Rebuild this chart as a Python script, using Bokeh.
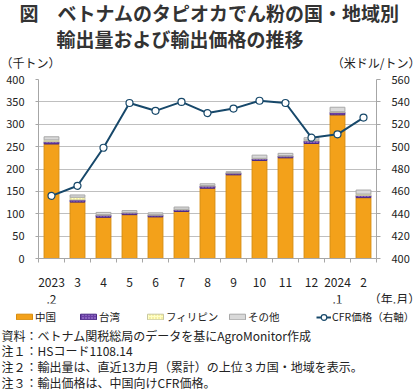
from bokeh.plotting import figure
from bokeh.layouts import column
from bokeh.models import (Range1d, LinearAxis, FixedTicker, SingleIntervalTicker,
                          Label, Legend, LegendItem, ColumnDataSource)
from bokeh.embed import file_html
from bokeh.resources import INLINE
import numpy as np

# ---- data ----
months = ["2023\n.2", "3", "4", "5", "6", "7", "8", "9", "10", "11", "12", "2024\n.1", "2"]
china = [256, 126, 92, 98, 93, 105, 157, 187, 219, 225, 257, 321, 136]
taiwan = [5, 5, 5, 4, 4, 4, 5, 4, 4, 4, 6, 6, 5]
philippines = [4, 6, 1, 1, 1, 1, 1, 1, 1, 1, 2, 1, 3]
others = [7, 5, 5, 4, 4, 5, 4, 2, 7, 5, 5, 10, 9]
cfr_price = [456, 465, 499, 539, 532, 540, 530, 534, 541, 539, 508, 511, 526]
series_names = ["中国", "台湾", "フィリピン", "その他"]
line_name = "CFR価格（右軸）"
x_unit = "（年.月）"

FONT = "Noto Sans CJK JP"
TXT = "#222222"
GRID = "#BFBFBF"
AX = "#A6A6A6"
FILLS = ["#F3A11A", "#6B3FA6", "#FFFFC8", "#D9D9D9"]
EDGES = ["#D88C0C", "#4A2A86", "#C8C8A0", "#A8A8A8"]
HATCH = [" ", "dot", "dot", " "]
HATCH_C = ["#F3A11A", "#B59BE0", "#E8D86A", "#D9D9D9"]
LINE = "#17486A"
STACK = ["china", "taiwan", "philippines", "others"]

n = len(months)
xc = np.arange(n) + 0.5
src = ColumnDataSource(dict(x=xc, china=china, taiwan=taiwan,
                            philippines=philippines, others=others, price=cfr_price))

W = 420
FRAME_L, FRAME_W = 38, 338
ppu = FRAME_W / n


def blank(width, height):
    f = figure(width=width, height=height, output_backend="svg", toolbar_location=None,
               x_range=Range1d(0, 1), y_range=Range1d(0, 1), x_axis_type=None, y_axis_type=None,
               min_border=0, frame_align=False)
    f.outline_line_color = None
    f.grid.visible = False
    return f


def lab(f, text, x, y, size="12px", align="left", style="normal", color=TXT):
    f.add_layout(Label(x=x, y=y, x_units="screen", y_units="screen", text=text,
                       text_font=FONT, text_font_size=size, text_color=color,
                       text_align=align, text_baseline="middle", text_font_style=style))


# ---- top: titles and unit labels (page y 0-71) ----
top = blank(W, 71)
lab(top, "図\u3000ベトナムのタピオカでん粉の国・地域別", 19, 59, "19px", style="bold", color="#333333")
lab(top, "輸出量および輸出価格の推移", 56, 33, "19px", style="bold", color="#333333")
lab(top, "（千トン）", 0, 9)
lab(top, "（米ドル/トン）", W, 9, align="right")

# ---- main chart (page y 71-266, frame 79-258) ----
p = figure(width=W, height=195, output_backend="svg", toolbar_location=None,
           x_range=Range1d(0, n), y_range=Range1d(0, 400), frame_align=False,
           min_border_left=FRAME_L, min_border_right=W - FRAME_L - FRAME_W,
           min_border_top=8, min_border_bottom=8)
p.extra_y_ranges = {"price": Range1d(400, 560)}
p.outline_line_color = None
p.xgrid.visible = False
p.ygrid.grid_line_color = GRID
p.ygrid.ticker = SingleIntervalTicker(interval=50, num_minor_ticks=0)

ya = p.yaxis[0]
ya.ticker = SingleIntervalTicker(interval=50, num_minor_ticks=0)
ra = LinearAxis(y_range_name="price", ticker=SingleIntervalTicker(interval=20, num_minor_ticks=0))
p.add_layout(ra, "right")
for ax, to in ((ya, 3), (ra, 4)):
    ax.axis_line_color = AX
    ax.major_tick_line_color = AX
    ax.major_tick_out = to
    ax.major_tick_in = 0
    ax.minor_tick_line_color = None
    ax.major_label_standoff = 11
    ax.major_label_text_font = FONT
    ax.major_label_text_font_size = "11px"
    ax.major_label_text_color = TXT

xa = p.xaxis[0]
xa.ticker = FixedTicker(ticks=[], minor_ticks=list(np.arange(n + 1)))
xa.axis_line_color = AX
xa.major_tick_line_color = None
xa.minor_tick_out = 4
xa.minor_tick_in = 0
xa.minor_tick_line_color = AX
xa.major_label_standoff = 0

p.vbar_stack(STACK, x="x", width=0.57, source=src,
             fill_color=FILLS, line_color=EDGES, line_width=1,
             hatch_pattern=HATCH, hatch_color=HATCH_C, hatch_scale=3)
p.line("x", "price", source=src, y_range_name="price", line_color=LINE, line_width=2)
p.scatter("x", "price", source=src, y_range_name="price", size=7, marker="circle",
          fill_color="white", line_color=LINE, line_width=1.2)

# ---- month labels strip (page y 266-303), same x scale as the chart ----
unit_pos = (394 - FRAME_L) / ppu
xl = figure(width=W, height=37, output_backend="svg", toolbar_location=None,
            x_range=Range1d(0, (W - FRAME_L) / ppu), y_range=Range1d(0, 1), y_axis_type=None,
            min_border_left=FRAME_L, min_border_right=0, min_border_top=0, min_border_bottom=36,
            frame_align=False)
xl.outline_line_color = None
xl.grid.visible = False
xla = xl.xaxis[0]
xla.ticker = FixedTicker(ticks=list(xc) + [unit_pos])
overrides = {float(v): m for v, m in zip(xc, months)}
overrides[float(unit_pos)] = "\n" + x_unit
xla.major_label_overrides = overrides
xla.axis_line_color = None
xla.major_tick_line_color = None
xla.minor_tick_line_color = None
xla.major_label_standoff = 0
xla.major_label_text_font = FONT
xla.major_label_text_font_size = "12px"
xla.major_label_text_color = TXT
xla.major_label_text_line_height = 1.0

# ---- legend and notes (page y 303-390) ----
bot = figure(width=W, height=87, output_backend="svg", toolbar_location=None,
             x_range=Range1d(0, n), y_range=Range1d(1000, 1001), x_axis_type=None,
             y_axis_type=None, min_border=0, frame_align=False)
bot.extra_y_ranges = {"price": Range1d(1000, 1001)}
bot.outline_line_color = None
bot.grid.visible = False
# same series, drawn outside this strip's visible range; they only feed the legend swatches
keys = bot.vbar_stack(STACK, x="x", width=0.57, source=src,
                      fill_color=FILLS, line_color=EDGES, line_width=1,
                      hatch_pattern=HATCH, hatch_color=HATCH_C, hatch_scale=3)
kl = bot.line("x", "price", source=src, y_range_name="price", line_color=LINE, line_width=2)
kc = bot.scatter("x", "price", source=src, y_range_name="price", size=7, marker="circle",
                 fill_color="white", line_color=LINE, line_width=1.2)


def leg(label, renderers, x, gw, gh, standoff):
    L = Legend(items=[LegendItem(label=label, renderers=renderers)], location=(x, 66),
               orientation="horizontal", glyph_width=gw, glyph_height=gh, label_height=14,
               label_standoff=standoff, padding=0, margin=0, spacing=0,
               border_line_color=None, background_fill_alpha=0,
               label_text_font=FONT, label_text_font_size="10.5px", label_text_color=TXT)
    bot.add_layout(L)


for name, r, x in zip(series_names, keys, [14, 78, 145, 227]):
    leg(name, [r], x, 20, 7, 1)
leg(line_name, [kl, kc], 316, 15, 14, 1)

lab(bot, "資料：ベトナム関税総局のデータを基にAgroMonitor作成", 1, 55)
lab(bot, "注１：HSコード1108.14", 1, 40)
lab(bot, "注２：輸出量は、直近13カ月（累計）の上位３カ国・地域を表示。", 1, 24)
lab(bot, "注３：輸出価格は、中国向けCFR価格。", 1, 8)

layout = column(top, p, xl, bot)
open("out.html", "w").write(file_html(layout, INLINE))
